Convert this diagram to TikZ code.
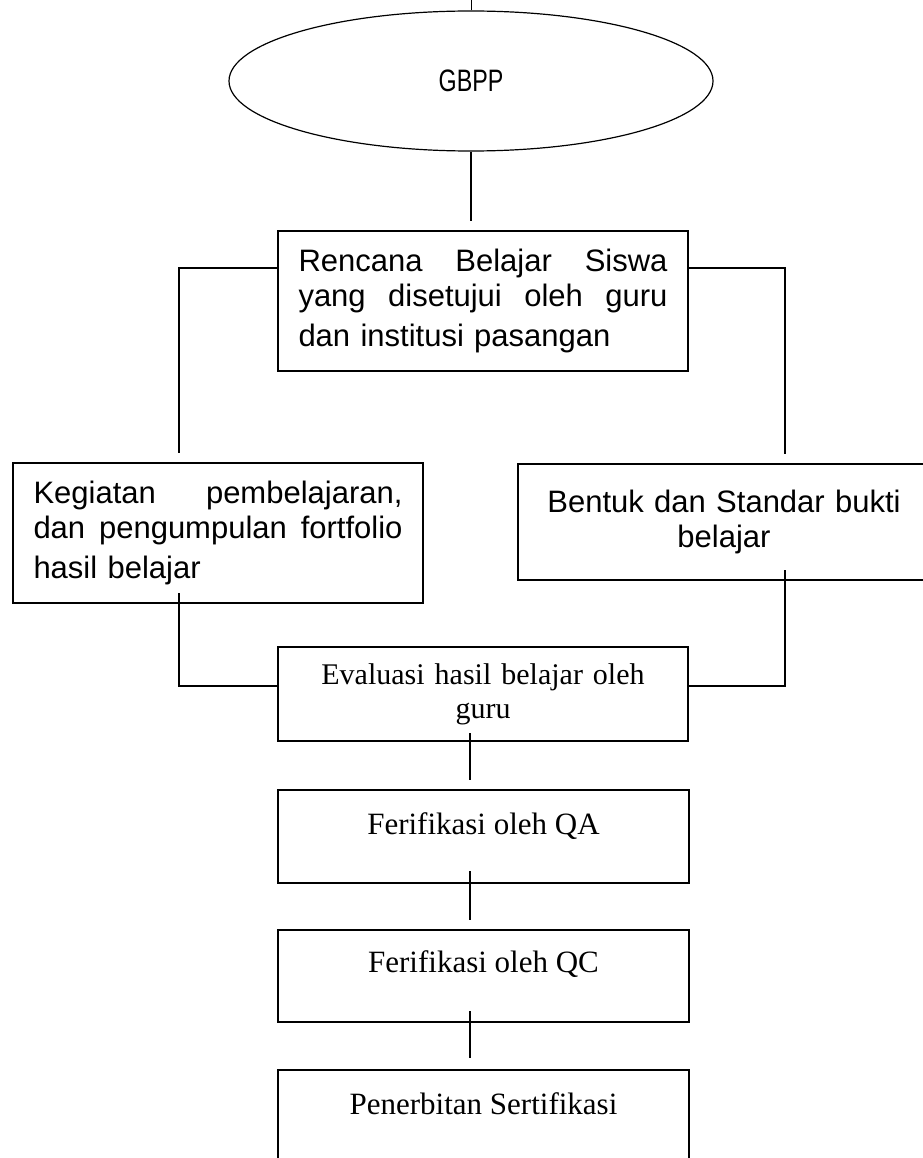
\documentclass[tikz,border=0pt]{standalone}
\usepackage{fontspec}
\setmainfont{Liberation Serif}[Ligatures=CommonOff]
\newfontfamily\arialfont{Liberation Sans}[Ligatures=CommonOff]
\newfontfamily\narrowfont{Liberation Sans}[FakeStretch=0.75]
\usetikzlibrary{shapes.geometric,calc}

\tikzset{
  box/.style={draw, rectangle, line width=1.2pt, outer sep=0pt, inner ysep=0pt},
  sanstext/.style={font=\arialfont\fontsize{31}{35.5}\selectfont},
  seriftext/.style={font=\fontsize{31}{35.5}\selectfont},
  link/.style={line width=1.2pt},
}
% one justified line, spread over the box
\newcommand{\fullline}[1]{\leavevmode\hbox to 369pt{#1}}

\begin{document}
\begin{tikzpicture}[x=1pt, y=-1pt, line cap=butt, line join=miter]
    \useasboundingbox (0,0) rectangle (922,1158);
    % top oval
    \node[draw, ellipse, line width=1.2pt, minimum width=484pt, minimum height=140pt, inner sep=0pt,
          font=\narrowfont\fontsize{31}{35}\selectfont] (gbpp) at (471,81) {GBPP};
    % plan and the two branches
    \node[box, sanstext, minimum width=410pt, minimum height=140pt, text width=369pt,
          inner xsep=20.5pt, align=left] (rencana) at (483,301)
        {\fullline{Rencana\hfill Belajar\hfill Siswa}\\
         \fullline{yang\hfill disetujui\hfill oleh\hfill guru}\\[4.5pt]
         dan institusi pasangan};
    \node[box, sanstext, minimum width=410pt, minimum height=140pt, text width=369pt,
          inner xsep=20.5pt, align=left] (kegiatan) at (218,533)
        {\fullline{Kegiatan\hfill pembelajaran,}\\
         \fullline{dan\hfill pengumpulan\hfill fortfolio}\\[4.5pt]
         hasil belajar};
    \node[box, sanstext, minimum width=412pt, minimum height=116pt, text width=370pt,
          align=center] (bentuk) at (724,522) {Bentuk dan Standar bukti\\ belajar};
    % evaluation chain
    \node[box, seriftext, font=\fontsize{30}{34}\selectfont, minimum width=410pt, minimum height=94pt,
          text width=369pt, align=center] (evaluasi) at (483,694) {Evaluasi hasil belajar oleh\\ guru};
    \node[box, seriftext, minimum width=411pt, text height=44pt, text depth=49pt,
          anchor=north] (qa) at (483.5,790) {Ferifikasi oleh QA};
    \node[box, seriftext, minimum width=411pt, text height=42pt, text depth=50pt,
          anchor=north] (qc) at (483.5,930) {Ferifikasi oleh QC};
    \node[box, seriftext, minimum width=411pt, text height=44pt, text depth=54pt,
          anchor=north] (terbit) at (483.5,1070) {Penerbitan Sertifikasi};

    % connectors
    \draw[line width=0.6pt] (gbpp.north) -- ++(0,-11);
    \draw[link] (gbpp.south) -- ($(gbpp.south |- rencana.north)+(0,-10)$);
    \draw[link] ($(rencana.west)+(0,-33)$) -| ($(kegiatan.north)+(-39,-10)$);
    \draw[link] ($(rencana.east)+(0,-33)$) -| ($(bentuk.north)+(61,-10)$);
    \draw[link] ($(kegiatan.south)+(-39,-10)$) |- ($(evaluasi.west)+(0,-8)$);
    \draw[link] ($(bentuk.south)+(61,-10)$) |- ($(evaluasi.east)+(0,-8)$);
    \draw[link] ($(evaluasi.south)+(-13,-8)$) -- ($(qa.north)+(-13.5,-10)$);
    \draw[link] ($(qa.south)+(-13.5,-12)$) -- ($(qc.north)+(-13.5,-10)$);
    \draw[link] ($(qc.south)+(-13.5,-11)$) -- ($(terbit.north)+(-13.5,-12)$);
\end{tikzpicture}
\end{document}
